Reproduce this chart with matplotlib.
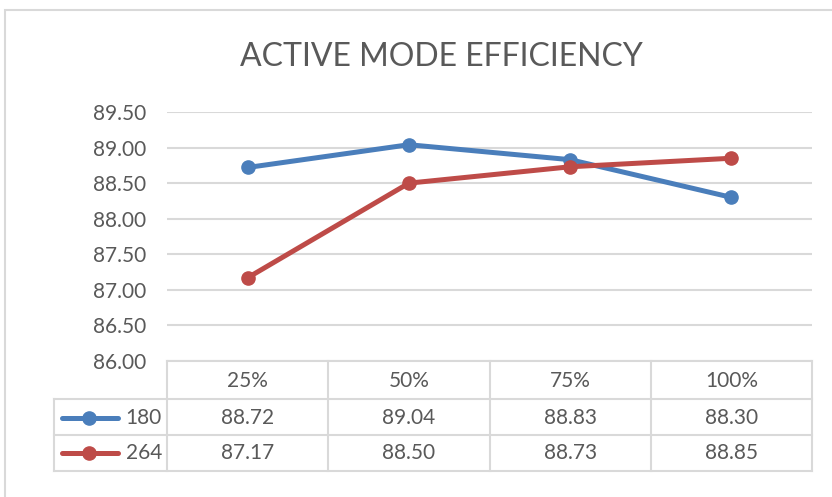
import matplotlib
matplotlib.use("Agg")
import matplotlib.pyplot as plt
from matplotlib.lines import Line2D
from matplotlib.patches import Rectangle
import matplotlib.transforms as mtransforms

plt.rcParams['font.family'] = ['Lato', 'DejaVu Sans']

categories = ["25%", "50%", "75%", "100%"]
series_names = ["180", "264"]
values_180 = [88.72, 89.04, 88.83, 88.30]
values_264 = [87.17, 88.50, 88.73, 88.85]
series_values = [values_180, values_264]
colors = ["#4A7EBB", "#BE4B48"]
yticks = [86.00, 86.50, 87.00, 87.50, 88.00, 88.50, 89.00, 89.50]

W, H = 832, 497
fig = plt.figure(figsize=(W / 100, H / 100), dpi=100)
txt = "#595959"
gridc = "#D9D9D9"

def fx(px):
    return px / W

def fy(py):
    return 1 - py / H

# chart border
fig.patches.append(Rectangle((fx(5), fy(H + 20)), 1.2, fy(10) - fy(H + 20),
                             transform=fig.transFigure, fill=False,
                             edgecolor=gridc, lw=1.5))

ax = fig.add_axes([fx(167), fy(361), fx(812) - fx(167), fy(112) - fy(361)])
x = list(range(len(categories)))
for vals, c in zip(series_values, colors):
    ax.plot(x, vals, color=c, lw=3.6, marker='o', markersize=9.5, zorder=3,
            solid_capstyle='round')
ax.set_xlim(-0.5, len(categories) - 0.5)
ax.set_ylim(yticks[0], yticks[-1])
ax.set_yticks(yticks)
ax.set_yticklabels([f"{v:.2f}" for v in yticks], color=txt, fontsize=15)
ax.tick_params(axis='y', length=0, pad=15)
ax.set_xticks([])
ax.grid(axis='y', color=gridc, lw=1.5)
ax.set_axisbelow(True)
for s in ax.spines.values():
    s.set_visible(False)

fig.text(fx(441), fy(57), "ACTIVE MODE EFFICIENCY", ha='center', va='center',
         fontsize=23, color=txt, fontweight='normal')

# data table
blend = mtransforms.blended_transform_factory(ax.transData, fig.transFigure)
row_lines = [361, 399, 435, 471]
col_edges = [i - 0.5 for i in range(len(categories) + 1)]
ax_left = fx(167)
ax_right = fx(812)
fig.add_artist(Line2D([ax_left, ax_right], [fy(361)] * 2, transform=fig.transFigure, color=gridc, lw=1.5))
for ry in row_lines[1:]:
    fig.add_artist(Line2D([fx(54), ax_right], [fy(ry)] * 2, transform=fig.transFigure, color=gridc, lw=1.5))
for ce in col_edges:
    fig.add_artist(Line2D([ce, ce], [fy(361), fy(471)], transform=blend, color=gridc, lw=1.5, clip_on=False))
fig.add_artist(Line2D([fx(54), fx(54)], [fy(399), fy(471)], transform=fig.transFigure, color=gridc, lw=1.5))

row_centers = [381, 418, 453]
for i, cat in enumerate(categories):
    ax.text(i, fy(row_centers[0]), cat, transform=blend, ha='center', va='center',
            fontsize=15, color=txt)
    for r, vals in enumerate(series_values):
        ax.text(i, fy(row_centers[r + 1]), f"{vals[i]:.2f}", transform=blend,
                ha='center', va='center', fontsize=15, color=txt)

for r, (name, c) in enumerate(zip(series_names, colors)):
    yy = fy(row_centers[r + 1])
    fig.add_artist(Line2D([fx(62), fx(118)], [yy, yy], transform=fig.transFigure,
                          color=c, lw=3.6, solid_capstyle='round'))
    fig.add_artist(Line2D([fx(89)], [yy], transform=fig.transFigure, color=c,
                          marker='o', markersize=9.5, lw=0))
    fig.text(fx(162), yy, name, ha='right', va='center', fontsize=15, color=txt)

fig.savefig("out.png", dpi=100)
